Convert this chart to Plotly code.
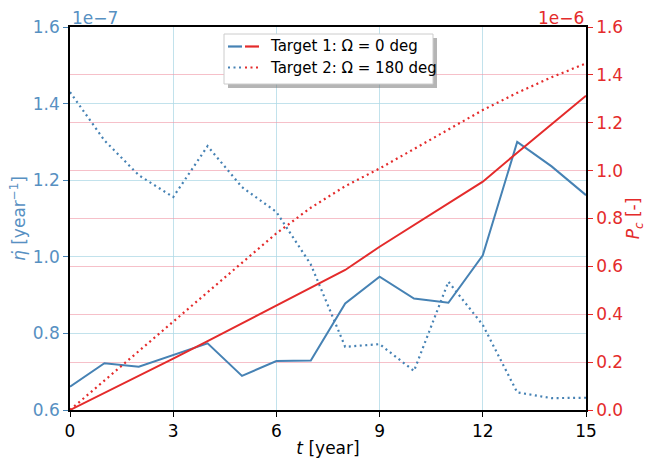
import plotly.graph_objects as go

# ---- data ----
t_years = list(range(16))
# eta-dot in units of 1e-7 year^-1
eta_target1 = [0.661, 0.722, 0.713, 0.743, 0.774, 0.689, 0.728, 0.729,
               0.878, 0.948, 0.891, 0.880, 1.004, 1.300, 1.236, 1.161]
eta_target2 = [1.430, 1.304, 1.213, 1.156, 1.289, 1.182, 1.117, 0.980,
               0.765, 0.772, 0.702, 0.935, 0.822, 0.646, 0.631, 0.632]
# P_c in units of 1e-6
pc_target1 = [0.0, 0.071, 0.143, 0.215, 0.288, 0.362, 0.434, 0.508,
              0.585, 0.682, 0.772, 0.862, 0.954, 1.075, 1.195, 1.313]
pc_target2 = [0.0, 0.123, 0.246, 0.369, 0.492, 0.615, 0.738, 0.845,
              0.935, 1.009, 1.090, 1.172, 1.253, 1.325, 1.390, 1.448]

x_ticks = [0, 3, 6, 9, 12, 15]
left_ticks = [0.6, 0.8, 1.0, 1.2, 1.4, 1.6]
right_ticks = [0.0, 0.2, 0.4, 0.6, 0.8, 1.0, 1.2, 1.4, 1.6]
legend_labels = ["Target 1: Ω = 0 deg", "Target 2: Ω = 180 deg"]

BLUE = "#4682b4"
BLUE_TXT = "#5790c2"
RED = "#e42b2b"
FONT = "DejaVu Sans"
DOT = "2px,3.5px"

fig = go.Figure()
fig.add_trace(go.Scatter(x=t_years, y=eta_target1, mode="lines",
                         line=dict(color=BLUE, width=2), yaxis="y"))
fig.add_trace(go.Scatter(x=t_years, y=eta_target2, mode="lines",
                         line=dict(color=BLUE, width=2.2, dash=DOT), yaxis="y"))
fig.add_trace(go.Scatter(x=t_years, y=pc_target1, mode="lines",
                         line=dict(color=RED, width=2), yaxis="y2"))
fig.add_trace(go.Scatter(x=t_years, y=pc_target2, mode="lines",
                         line=dict(color=RED, width=2.2, dash=DOT), yaxis="y2"))

W, H = 646, 463
L, R, T, B = 70, 60, 27, 53
pw, ph = W - L - R, H - T - B

def px2x(px):
    return (px - L) / pw

def py2y(py):
    return (H - B - py) / ph

fig.update_layout(
    width=W, height=H,
    margin=dict(l=L, r=R, t=T, b=B),
    paper_bgcolor="white", plot_bgcolor="white",
    showlegend=False,
    font=dict(family=FONT, size=17, color="black"),
    xaxis=dict(range=[0, 15], tickvals=x_ticks, ticktext=[str(v) for v in x_ticks],
               automargin=False,
               showgrid=True, gridcolor="rgba(173,216,230,0.75)", gridwidth=1,
               showline=True, linecolor="black", linewidth=1.5, mirror=True,
               ticks="outside", ticklen=5, tickcolor="black",
               tickfont=dict(size=17, color="black"),
               title=dict(text="<i>t</i> [year]", font=dict(size=17, color="black"), standoff=2),
               zeroline=False),
    yaxis=dict(range=[0.6, 1.6], tickvals=left_ticks,
               ticktext=[f"{v:.1f}" for v in left_ticks],
               automargin=False,
               showgrid=True, gridcolor="rgba(173,216,230,0.75)", gridwidth=1,
               showline=True, linecolor="black", linewidth=1.5,
               ticks="outside", ticklen=5, tickcolor=BLUE,
               tickfont=dict(size=17, color=BLUE_TXT),
               title=dict(text="<i>η̇</i> [year<sup>−1</sup>]", font=dict(size=17, color=BLUE_TXT), standoff=3),
               zeroline=False),
    yaxis2=dict(range=[0.0, 1.6], tickvals=right_ticks,
                ticktext=[f"{v:.1f}" for v in right_ticks],
                overlaying="y", side="right", automargin=False,
                showgrid=True, gridcolor="rgba(240,150,165,0.6)", gridwidth=1,
                showline=True, linecolor="black", linewidth=1.5,
                ticks="outside", ticklen=5, tickcolor=RED,
                tickfont=dict(size=17, color=RED),
                title=dict(text="<i>P<sub>c</sub></i> [-]", font=dict(size=17, color=RED), standoff=4),
                zeroline=False),
)

# exponent labels
fig.add_annotation(xref="paper", yref="paper", x=0, y=1.0, xanchor="left", yanchor="bottom",
                   text="1e−7", showarrow=False, font=dict(size=17, color=BLUE_TXT), yshift=-3)
fig.add_annotation(xref="paper", yref="paper", x=1, y=1.0, xanchor="right", yanchor="bottom",
                   text="1e−6", showarrow=False, font=dict(size=17, color=RED), yshift=-3)

# manual legend box with shadow
bx0, bx1, by0, by1 = 224, 433, 34, 84
fig.add_shape(type="rect", xref="paper", yref="paper",
              x0=px2x(bx0 + 4), x1=px2x(bx1 + 4), y0=py2y(by1 + 4), y1=py2y(by0 + 4),
              line=dict(width=0), fillcolor="rgba(120,120,120,0.55)", layer="above")
fig.add_shape(type="rect", xref="paper", yref="paper",
              x0=px2x(bx0), x1=px2x(bx1), y0=py2y(by1), y1=py2y(by0),
              line=dict(color="#cccccc", width=1), fillcolor="white", layer="above")

rows = [(46.5, "solid"), (67.5, DOT)]
for (ry, dash), label in zip(rows, legend_labels):
    for (x0, x1, c) in [(228, 242, BLUE), (245, 259, RED)]:
        fig.add_shape(type="line", xref="paper", yref="paper",
                      x0=px2x(x0), x1=px2x(x1), y0=py2y(ry), y1=py2y(ry),
                      line=dict(color=c, width=2.2, dash=dash), layer="above")
    fig.add_annotation(xref="paper", yref="paper", x=px2x(268), y=py2y(ry),
                       xanchor="left", yanchor="middle", text=label, showarrow=False,
                       font=dict(size=15, color="black"))

fig.write_html("out.html")
